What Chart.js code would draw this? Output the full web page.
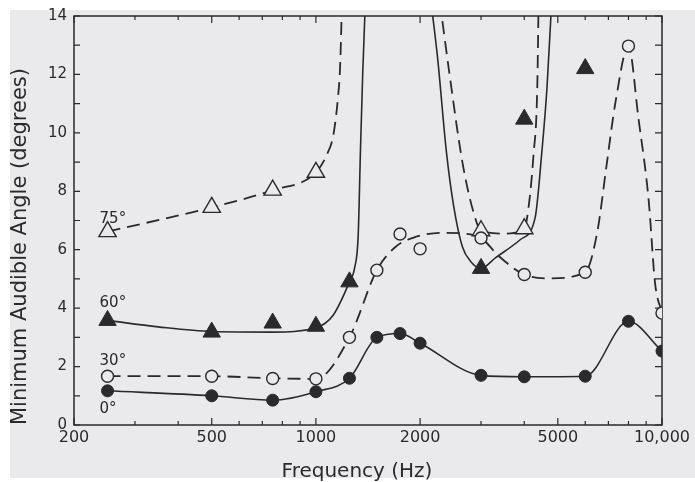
<!DOCTYPE html>
<html><head><meta charset="utf-8">
<script src="https://cdn.jsdelivr.net/npm/chart.js@4.4.1/dist/chart.umd.min.js"></script>
<style>html,body{margin:0;padding:0;background:#fff;}canvas{display:block;}</style>
</head><body>
<canvas id="c" width="695" height="482"></canvas>
<script>
// ---- axis ticks ----
const xTickValues = [200,300,400,500,600,700,800,900,1000,2000,3000,4000,5000,6000,7000,8000,9000,10000];
const xMajorValues = [200,500,1000,2000,5000,10000];
const xMajorLabels = ['200','500','1000','2000','5000','10,000'];
const yTickValues = [0,1,2,3,4,5,6,7,8,9,10,11,12,13,14];
const xTitle = 'Frequency (Hz)';
const yTitle = 'Minimum Audible Angle (degrees)';

// ---- measured points (Hz, degrees) ----
const freq0  = [250,500,750,1000,1250,1500,1750,2000,3000,4000,6000,8000,10000];
const deg0   = [1.17,1.0,0.85,1.14,1.6,3.0,3.13,2.8,1.7,1.65,1.67,3.55,2.53];

const freq30 = [250,500,750,1000,1250,1500,1750,2000,3000,4000,6000,8000,10000];
const deg30  = [1.67,1.67,1.59,1.58,3.0,5.3,6.54,6.03,6.4,5.15,5.23,12.97,3.83];

const freq60 = [250,500,750,1000,1250,3000,4000,6000];
const deg60  = [3.58,3.18,3.49,3.38,4.9,5.36,10.47,12.2];

const freq75 = [250,500,750,1000,3000,4000];
const deg75  = [6.62,7.45,8.04,8.65,6.65,6.72];

// ---- hand-drawn fitted curves ----
const curve30Freq = [250,500,750,1000,1250,1500,1700,1900,2300,2700,3000,3400,4000,4750,6000,6500,6900,7350,8000,8550,9150,9550,10000];
const curve30Deg  = [1.67,1.67,1.6,1.58,3.0,5.3,6.1,6.4,6.58,6.55,6.4,5.75,5.15,5.02,5.23,6.6,8.8,11.1,12.97,10.5,7.7,4.85,3.83];

const curve60aFreq = [250,350,500,750,1000,1120,1250,1295,1325,1345,1365,1390];
const curve60aDeg  = [3.58,3.36,3.2,3.18,3.33,3.75,4.9,5.4,6.5,9.4,12.0,14.5];

const curve60bFreq = [2150,2250,2380,2500,2650,2800,3000,3300,3900,4300,4500,4650,4800];
const curve60bDeg  = [14.5,12.5,9.4,7.5,6.1,5.6,5.36,5.72,6.35,7.1,9.4,11.5,14.5];

const curve75aFreq = [250,500,750,1000,1080,1124,1160,1174,1190];
const curve75aDeg  = [6.62,7.45,8.04,8.65,9.3,9.95,11.3,12.2,14.5];

const curve75bFreq = [2280,2420,2650,2850,3000,3500,4000,4140,4250,4360,4400];
const curve75bDeg  = [14.5,12.2,9.0,7.3,6.65,6.55,6.72,7.7,9.2,11.5,14.5];

// ---- in-plot series labels (text, Hz anchor, degree anchor) ----
const seriesNames  = ['75°','60°','30°','0°'];
const seriesLabelX = [250,250,250,250];
const seriesLabelY = [6.9,4.03,2.05,0.41];

const BG = '#eaeaed';
const INK = '#2a2a2a';
const FONT = 'DejaVu Sans';

function pts(xs, ys){ return xs.map((x,i)=>({x:x, y:ys[i]})); }

function markers(label, xs, ys, style, radius, filled){
  return {
    label: label, data: pts(xs, ys), showLine: false,
    pointStyle: style, pointRadius: radius, pointHoverRadius: radius,
    pointBackgroundColor: filled ? INK : BG, pointBorderColor: INK,
    pointBorderWidth: filled ? 1 : 1.4
  };
}
function curve(label, xs, ys, dashed){
  return {
    label: label, data: pts(xs, ys), showLine: true, pointRadius: 0, pointHoverRadius: 0,
    borderColor: INK, borderWidth: dashed ? 1.8 : 1.6, borderDash: dashed ? [13,7] : [],
    cubicInterpolationMode: 'monotone', fill: false
  };
}

const m0 = markers('0°', freq0, deg0, 'circle', 6, true);
Object.assign(m0, {showLine:true, borderColor:INK, borderWidth:1.6, cubicInterpolationMode:'monotone'});

const decor = {
  id: 'decor',
  beforeDraw(chart){
    const ctx = chart.ctx;
    ctx.save();
    ctx.fillStyle = '#ffffff';
    ctx.fillRect(0,0,chart.width,chart.height);
    ctx.fillStyle = BG;
    ctx.fillRect(10,10,chart.width-10,chart.height-14);
    ctx.restore();
  },
  beforeDatasetsDraw(chart){
    const ctx = chart.ctx, a = chart.chartArea, xs = chart.scales.x, ys = chart.scales.y;
    ctx.save();
    ctx.strokeStyle = INK;
    ctx.lineWidth = 1.5;
    ctx.strokeRect(a.left, a.top, a.right - a.left, a.bottom - a.top);
    ctx.lineWidth = 1.2;
    ctx.beginPath();
    yTickValues.forEach(v => {
      const y = ys.getPixelForValue(v);
      ctx.moveTo(a.left, y); ctx.lineTo(a.left + 6, y);
      ctx.moveTo(a.right, y); ctx.lineTo(a.right - 7, y);
    });
    xTickValues.forEach(v => {
      const x = xs.getPixelForValue(v);
      const len = xMajorValues.includes(v) ? 7 : 4;
      ctx.moveTo(x, a.bottom); ctx.lineTo(x, a.bottom - len);
      ctx.moveTo(x, a.top); ctx.lineTo(x, a.top + len);
    });
    ctx.stroke();
    ctx.restore();
  },
  afterDraw(chart){
    const ctx = chart.ctx, xs = chart.scales.x, ys = chart.scales.y, a = chart.chartArea;
    ctx.save();
    ctx.fillStyle = INK;
    ctx.font = '15px "' + FONT + '"';
    ctx.textAlign = 'left';
    ctx.textBaseline = 'alphabetic';
    seriesNames.forEach((t,i) => {
      ctx.fillText(t, xs.getPixelForValue(seriesLabelX[i]) - 8, ys.getPixelForValue(seriesLabelY[i]));
    });
    // x-axis title, centred a little left of the plot centre as in the figure
    ctx.font = '20px "' + FONT + '"';
    ctx.textAlign = 'center';
    ctx.fillText(xTitle, (a.left + a.right) / 2 - 11, 477);
    ctx.restore();
  }
};

new Chart(document.getElementById('c'), {
  type: 'scatter',
  data: {
    datasets: [
      m0,
      markers('30°', freq30, deg30, 'circle', 6, false),
      markers('60°', freq60, deg60, 'triangle', 10, true),
      markers('75°', freq75, deg75, 'triangle', 10, false),
      curve('30° curve', curve30Freq, curve30Deg, true),
      curve('60° curve a', curve60aFreq, curve60aDeg, false),
      curve('60° curve b', curve60bFreq, curve60bDeg, false),
      curve('75° curve a', curve75aFreq, curve75aDeg, true),
      curve('75° curve b', curve75bFreq, curve75bDeg, true)
    ]
  },
  options: {
    responsive: false,
    animation: false,
    events: [],
    layout: { padding: { top: 15, right: 33, bottom: 0, left: 0 } },
    plugins: { legend: { display: false }, tooltip: { enabled: false }, title: { display: false } },
    scales: {
      x: {
        type: 'logarithmic', min: 200, max: 10000,
        grid: { display: false, drawTicks: false },
        border: { display: false },
        afterBuildTicks: s => { s.ticks = xTickValues.map(v => ({ value: v })); },
        afterFit: s => { s.height = 57; },
        ticks: {
          autoSkip: false, maxRotation: 0, minRotation: 0, padding: 3,
          color: INK, font: { family: FONT, size: 16 },
          callback: v => { const i = xMajorValues.indexOf(v); return i >= 0 ? xMajorLabels[i] : ''; }
        },
        title: { display: false, text: xTitle }
      },
      y: {
        min: 0, max: 14,
        grid: { display: false, drawTicks: false },
        border: { display: false },
        afterFit: s => { s.width = 74; },
        ticks: { stepSize: 2, padding: 7, color: INK, font: { family: FONT, size: 15 } },
        title: { display: true, align: 'start', text: yTitle, color: INK, font: { family: FONT, size: 21 }, padding: { top: 8, bottom: 0 } }
      }
    }
  },
  plugins: [decor]
});
</script>
</body></html>
